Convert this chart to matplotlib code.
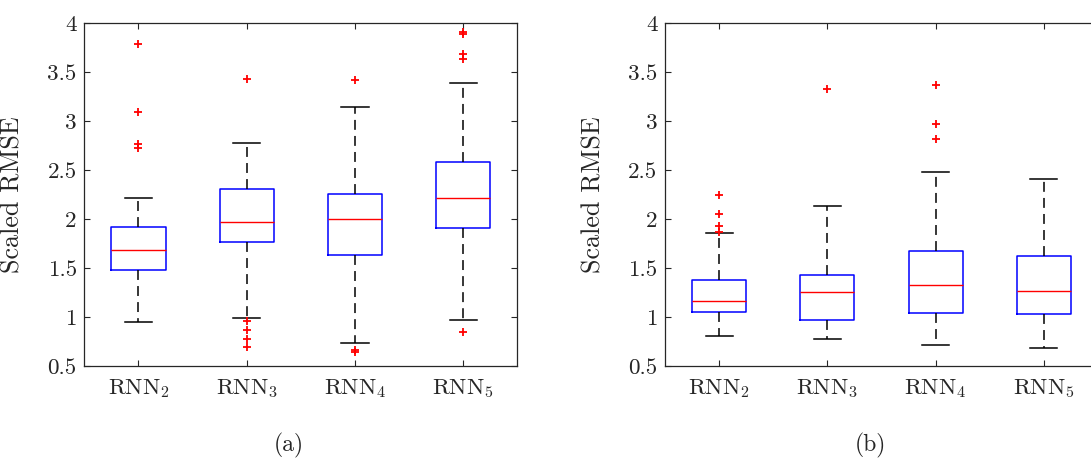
import numpy as np
import matplotlib
matplotlib.use('Agg')
import matplotlib.pyplot as plt

plt.rcParams['font.family'] = 'cmr10'
plt.rcParams['mathtext.fontset'] = 'cm'
plt.rcParams['axes.formatter.use_mathtext'] = True

# models on the x axis
models = ['RNN$_2$', 'RNN$_3$', 'RNN$_4$', 'RNN$_5$']
yticks = [0.5, 1, 1.5, 2, 2.5, 3, 3.5, 4]
ytick_labels = ['0.5', '1', '1.5', '2', '2.5', '3', '3.5', '4']

# (a) box statistics of scaled RMSE
a_q1 = [1.483, 1.769, 1.629, 1.905]
a_med = [1.680, 1.966, 2.000, 2.211]
a_q3 = [1.915, 2.303, 2.255, 2.582]
a_lo = [0.946, 0.993, 0.735, 0.966]
a_hi = [2.211, 2.772, 3.146, 3.388]
a_fliers = [[3.789, 3.095, 2.762, 2.724],
            [3.432, 0.959, 0.864, 0.780, 0.690],
            [3.415, 0.663, 0.640],
            [3.905, 3.888, 3.684, 3.633, 0.846]]

# (b) box statistics of scaled RMSE
b_q1 = [1.051, 0.966, 1.041, 1.034]
b_med = [1.160, 1.255, 1.323, 1.269]
b_q3 = [1.374, 1.432, 1.677, 1.619]
b_lo = [0.810, 0.772, 0.714, 0.684]
b_hi = [1.857, 2.136, 2.480, 2.405]
b_fliers = [[2.245, 2.054, 1.932, 1.870],
            [3.330],
            [3.367, 2.969, 2.813],
            []]

edge = '#262626'


def make_stats(q1, med, q3, lo, hi, fliers):
    stats = []
    for i in range(len(q1)):
        stats.append({'q1': q1[i], 'med': med[i], 'q3': q3[i],
                      'whislo': lo[i], 'whishi': hi[i],
                      'fliers': fliers[i]})
    return stats


def draw_panel(ax, stats):
    ax.bxp(stats, positions=[1, 2, 3, 4], widths=0.5,
           boxprops=dict(color='blue', linewidth=1.1),
           medianprops=dict(color='red', linewidth=1.0),
           whiskerprops=dict(color='black', linewidth=1.1,
                             linestyle=(0, (6.5, 4))),
           capprops=dict(color='black', linewidth=1.1),
           flierprops=dict(marker='+', markeredgecolor='red',
                           markersize=6, markeredgewidth=1.3,
                           linestyle='none'))
    ax.set_xlim(0.5, 4.5)
    ax.set_ylim(0.5, 4)
    ax.set_xticks([1, 2, 3, 4])
    ax.set_xticklabels(models)
    ax.set_yticks(yticks)
    ax.set_yticklabels(ytick_labels)
    ax.tick_params(direction='in', length=4.5, width=0.8, color=edge,
                   labelcolor=edge, labelsize=16.6, top=True, right=True)
    ax.tick_params(axis='y', pad=5.5)
    ax.tick_params(axis='x', pad=8)
    for s in ax.spines.values():
        s.set_color(edge)
        s.set_linewidth(0.9)
    ax.set_ylabel('Scaled RMSE', fontsize=18.8, color=edge)
    ax.yaxis.set_label_coords(-0.138, 0.5)


fig = plt.figure(figsize=(10.91, 4.58), dpi=100)
ax1 = fig.add_axes([0.0773, 0.2009, 0.3969, 0.7489])
ax2 = fig.add_axes([0.6095, 0.2009, 0.3969, 0.7489])

draw_panel(ax1, make_stats(a_q1, a_med, a_q3, a_lo, a_hi, a_fliers))
draw_panel(ax2, make_stats(b_q1, b_med, b_q3, b_lo, b_hi, b_fliers))

fig.text(289 / 1091, 1 - 445 / 458, '(a)', fontsize=17, color=edge,
         ha='center', va='center')
fig.text(870 / 1091, 1 - 445 / 458, '(b)', fontsize=17, color=edge,
         ha='center', va='center')

fig.savefig('out.png', dpi=100)
